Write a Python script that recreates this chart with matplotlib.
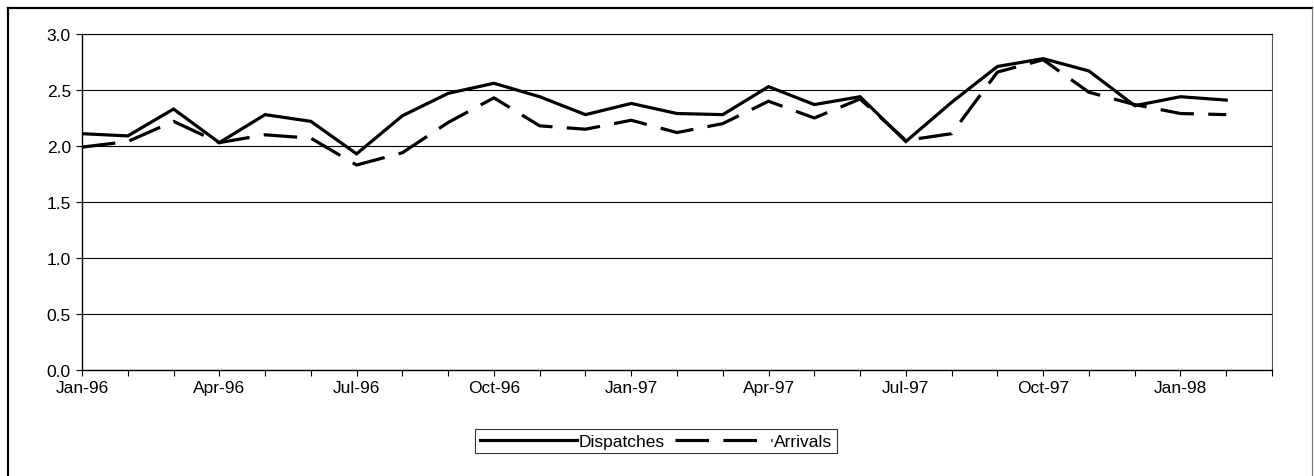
import matplotlib
matplotlib.use("Agg")
import matplotlib.pyplot as plt
from matplotlib.lines import Line2D
import numpy as np

plt.rcParams['font.family'] = ['Liberation Sans', 'DejaVu Sans']

months = ["Jan-96", "Feb-96", "Mar-96", "Apr-96", "May-96", "Jun-96", "Jul-96", "Aug-96",
          "Sep-96", "Oct-96", "Nov-96", "Dec-96", "Jan-97", "Feb-97", "Mar-97", "Apr-97",
          "May-97", "Jun-97", "Jul-97", "Aug-97", "Sep-97", "Oct-97", "Nov-97", "Dec-97",
          "Jan-98", "Feb-98", "Mar-98"]
dispatches = [2.11, 2.09, 2.33, 2.03, 2.28, 2.22, 1.93, 2.27, 2.47, 2.56, 2.44, 2.28, 2.38,
              2.29, 2.28, 2.53, 2.37, 2.44, 2.04, 2.39, 2.71, 2.78, 2.67, 2.36, 2.44, 2.41]
arrivals = [1.99, 2.04, 2.22, 2.03, 2.10, 2.07, 1.83, 1.94, 2.21, 2.43, 2.18, 2.15, 2.23,
            2.12, 2.20, 2.40, 2.25, 2.42, 2.05, 2.11, 2.66, 2.77, 2.48, 2.37, 2.29, 2.28]
yticks = [0.0, 0.5, 1.0, 1.5, 2.0, 2.5, 3.0]

W, H = 1314, 477
fig = plt.figure(figsize=(W / 100, H / 100), dpi=100)
ax = fig.add_axes([82 / W, 1 - 371 / H, (1272 - 82) / W, (371 - 35) / H])

x = np.arange(len(dispatches))
ax.plot(x, dispatches, color='black', lw=2.3, solid_joinstyle='miter', label='Dispatches')
ax.plot(x, arrivals, color='black', lw=2.3, dashes=(10.5, 4.5), label='Arrivals')

ax.set_xlim(0, len(months) - 1)
ax.set_ylim(0, 3.0)
ax.set_yticks(yticks)
ax.set_yticklabels([f"{v:.1f}" for v in yticks], fontsize=12.5)
ax.set_xticks(np.arange(len(months)))
ax.set_xticklabels([m if i % 3 == 0 else "" for i, m in enumerate(months)], fontsize=12.5)
ax.tick_params(axis='both', direction='out', length=4, width=0.8, color='black')
ax.tick_params(axis='y', pad=4)
ax.tick_params(axis='x', pad=3)
ax.grid(axis='y', color='black', lw=0.8)
ax.set_axisbelow(True)
for s in ['left', 'bottom']:
    ax.spines[s].set_color('black')
    ax.spines[s].set_linewidth(1.0)
ax.spines['top'].set_color('black')
ax.spines['top'].set_linewidth(0.8)
ax.spines['right'].set_color('#555555')
ax.spines['right'].set_linewidth(0.8)

leg = ax.legend(loc='center', bbox_to_anchor=(656 / W, 1 - 442 / H), bbox_transform=fig.transFigure,
                ncol=2, frameon=True, fancybox=False, fontsize=12.5, handlelength=5.6,
                handletextpad=0.1, columnspacing=0.6, borderpad=0.25, borderaxespad=0)
leg.get_frame().set_edgecolor('black')
leg.get_frame().set_linewidth(0.8)

# outer chart frame
fig.add_artist(Line2D([8 / W, 1312 / W], [1 - 9 / H, 1 - 9 / H], color='black', lw=1.6))
fig.add_artist(Line2D([8 / W, 8 / W], [1 - 9 / H, 0], color='black', lw=1.6))
fig.add_artist(Line2D([1312 / W, 1312 / W], [1 - 9 / H, 0], color='#777777', lw=0.8))

fig.savefig("out.png", dpi=100)
